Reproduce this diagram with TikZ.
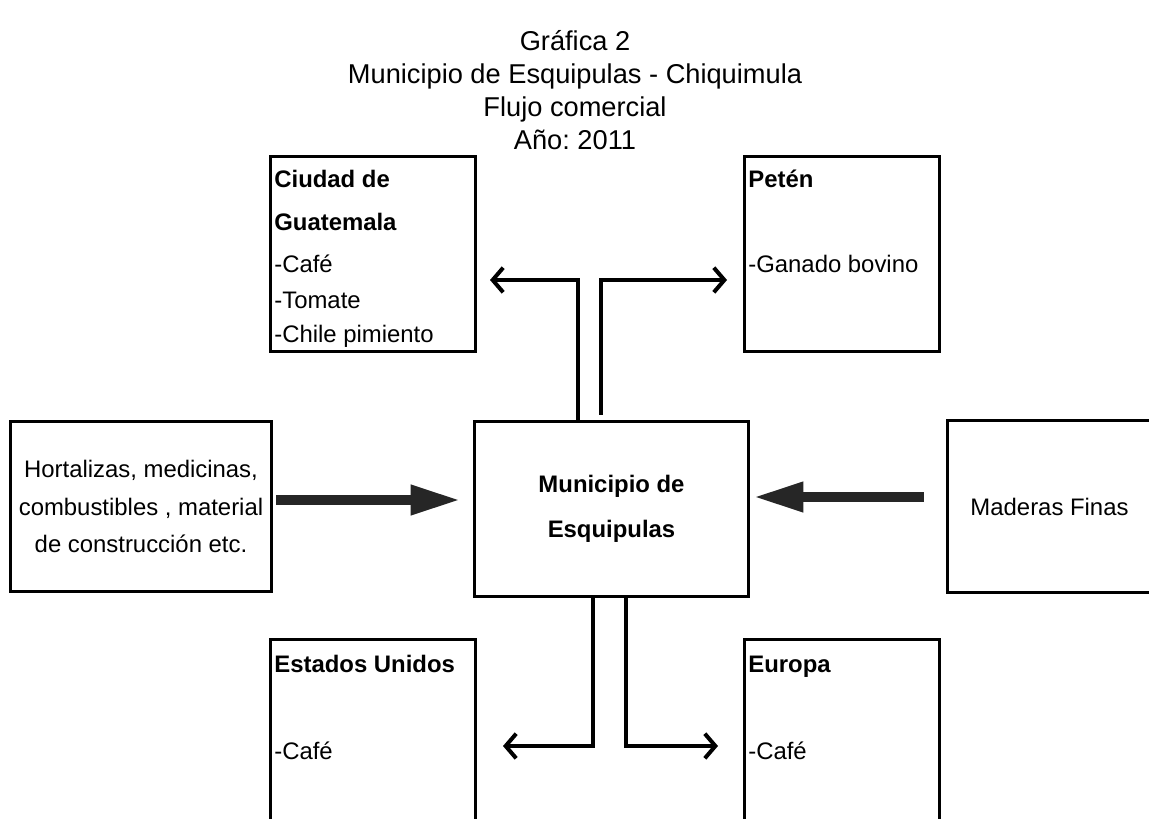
\documentclass[tikz,border=0pt]{standalone}
\usepackage{fontspec}
\setmainfont{Liberation Sans}
\frenchspacing
\usetikzlibrary{arrows.meta}
\tikzset{
  caja/.style={draw=black,line width=0.06cm,shape=rectangle,inner sep=0pt},
  linea/.style={anchor=base west,inner sep=0pt},
  negrita/.style={font=\fontsize{13.6}{16}\selectfont\bfseries},
  flecha/.style={line width=0.08cm,-{Straight Barb[length=6pt,width=14pt,line width=0.08cm]}},
  grueso/.style={draw=black!85,line width=0.2cm,-{Triangle[length=1cm,width=0.56cm]}}
}
\begin{document}
\begin{tikzpicture}[x=0.02cm,y=-0.02cm,font=\fontsize{13.6}{16}\selectfont]
\clip (0,0) rectangle (1149,818);
\node (titulo) at (575,90) [align=center,font=\fontsize{15.5}{18.7}\selectfont] {Gráfica 2\\Municipio de Esquipulas - Chiquimula\\Flujo comercial\\Año: 2011};
% cajas
\node (gt) at (373,254) [caja,minimum width=4.12cm,minimum height=3.92cm] {};
\node (peten) at (842,254) [caja,minimum width=3.92cm,minimum height=3.92cm] {};
\node (muni) at (611.5,509) [caja,minimum width=5.5cm,minimum height=3.52cm,align=center,font=\bfseries\fontsize{13.6}{25.5}\selectfont] {Municipio de\\Esquipulas};
\node (izq) at (141,506.5) [caja,minimum width=5.24cm,minimum height=3.42cm,align=center,font=\fontsize{13.6}{21.3}\selectfont] {Hortalizas, medicinas,\\combustibles , material\\de construcción etc.};
\node (madera) at (1049.5,506.5) [caja,minimum width=4.1cm,minimum height=3.46cm] {Maderas Finas};
\node (eeuu) at (373,734.5) [caja,minimum width=4.12cm,minimum height=3.82cm] {};
\node (europa) at (842,734.5) [caja,minimum width=3.92cm,minimum height=3.82cm] {};
% textos
\node (gt1) at (274,187) [linea,negrita] {Ciudad de};
\node (gt2) at (274,230) [linea,negrita] {Guatemala};
\node (gt3) at (274,272) [linea] {-Café};
\node (gt4) at (274,308) [linea] {-Tomate};
\node (gt5) at (274,342) [linea] {-Chile pimiento};
\node (pe1) at (748,187) [linea,negrita] {Petén};
\node (pe2) at (748,272) [linea] {-Ganado bovino};
\node (eu1) at (274,672) [linea,negrita] {Estados Unidos};
\node (eu2) at (274,759) [linea] {-Café};
\node (er1) at (748,672) [linea,negrita] {Europa};
\node (er2) at (748,759) [linea] {-Café};
% flechas
\coordinate (gtfin) at (490,280);
\coordinate (pefin) at (727,280);
\coordinate (eufin) at (503,746);
\coordinate (erfin) at (718,746);
\draw[flecha] ([xshift=-0.67cm]muni.north) |- (gtfin);
\draw[flecha] ([xshift=-0.21cm,yshift=0.1cm]muni.north) |- (pefin);
\draw[flecha] ([xshift=-0.37cm]muni.south) |- (eufin);
\draw[flecha] ([xshift=0.29cm]muni.south) |- (erfin);
\draw[grueso,shorten <=0.06cm,shorten >=0.24cm] ([yshift=0.13cm]izq.east) -- ([yshift=0.13cm]izq.east -| muni.west);
\draw[grueso,shorten <=0.44cm,shorten >=0.06cm] ([yshift=0.19cm]madera.west) -- ([yshift=0.19cm]madera.west -| muni.east);
\end{tikzpicture}
\end{document}
